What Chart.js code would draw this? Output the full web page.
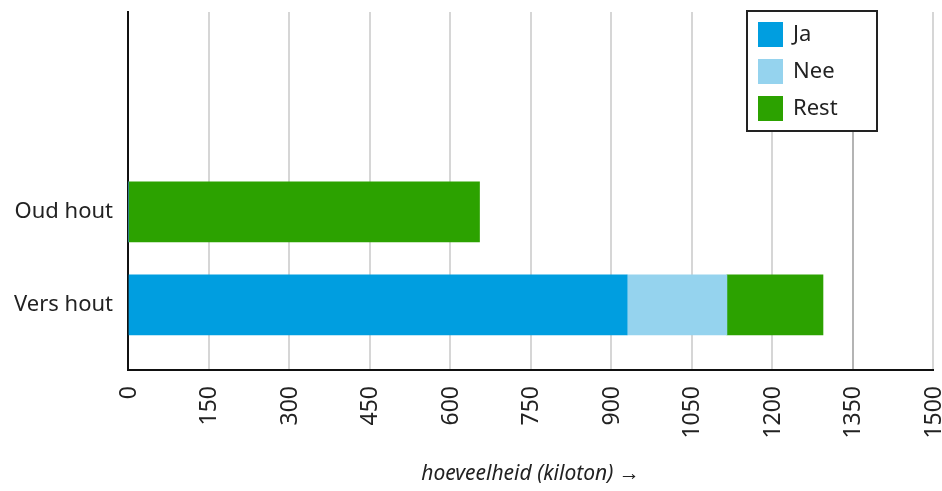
<!DOCTYPE html>
<html>
<head>
<meta charset="utf-8">
<script src="https://cdn.jsdelivr.net/npm/chart.js@4/dist/chart.umd.min.js"></script>
<style>
  html, body { margin: 0; padding: 0; background: #fff; }
  #wrap { width: 942px; height: 491px; }
</style>
</head>
<body>
<div id="wrap"><canvas id="chart" width="942" height="491"></canvas></div>
<script>
// data (kiloton)
var categories = ["Oud hout", "Vers hout"];
var seriesNames = ["Ja", "Nee", "Rest"];
var ja = [0, 930];
var nee = [0, 186];
var rest = [655, 179];
var xTicks = [0, 150, 300, 450, 600, 750, 900, 1050, 1200, 1350, 1500];
var colors = ["#009ee0", "#95d3ee", "#2ca200"];

// categories sit low on the axis, leaving room above for the legend
var catOffset = 2;

function toPoints(values) {
  return values.map(function(v, i) {
    return { x: v, y: i + catOffset };
  });
}

var seriesValues = [ja, nee, rest];
var datasets = seriesNames.map(function(name, k) {
  return {
    label: name,
    data: toPoints(seriesValues[k]),
    backgroundColor: colors[k],
    borderWidth: 0,
    barThickness: 60
  };
});

// boxed legend in the upper right
var boxLegend = {
  id: "boxLegend",
  afterDraw: function(chart) {
    var ctx = chart.ctx;
    var x0 = 747, y0 = 11, w = 130, h = 120;
    ctx.save();
    ctx.fillStyle = "#fff";
    ctx.fillRect(x0, y0, w, h);
    ctx.strokeStyle = "#222";
    ctx.lineWidth = 2;
    ctx.strokeRect(x0, y0, w, h);
    ctx.font = "22px 'Noto Sans'";
    ctx.textBaseline = "middle";
    chart.data.datasets.forEach(function(ds, i) {
      var yy = 22 + i * 37;
      ctx.fillStyle = ds.backgroundColor;
      ctx.fillRect(758, yy, 25, 25);
      ctx.fillStyle = "#222";
      ctx.fillText(ds.label, 793, yy + 13);
    });
    ctx.restore();
  }
};

new Chart(document.getElementById("chart"), {
  type: "bar",
  data: { datasets: datasets },
  plugins: [boxLegend],
  options: {
    indexAxis: "y",
    responsive: false,
    animation: false,
    layout: { padding: { top: 12, right: 9, left: 0, bottom: 0 } },
    plugins: {
      legend: { display: false },
      tooltip: { enabled: false }
    },
    scales: {
      x: {
        type: "linear",
        stacked: true,
        min: 0,
        max: 1500,
        afterBuildTicks: function(scale) {
          scale.ticks = xTicks.map(function(v) { return { value: v }; });
        },
        afterFit: function(scale) {
          scale.height = 121;
          scale.paddingLeft = 0;
          scale.paddingRight = 0;
        },
        grid: {
          color: function(c) { return c.tick && c.tick.value === 1350 ? "#b4b4b4" : "#d6d6d6"; },
          lineWidth: 2,
          tickLength: 0
        },
        border: { color: "#111", width: 2 },
        ticks: {
          minRotation: 90,
          maxRotation: 90,
          padding: 16,
          labelOffset: 1,
          color: "#222",
          font: { family: "'Noto Sans'", size: 23 },
          callback: function(v) { return String(v); }
        },
        title: {
          display: true,
          text: "hoeveelheid (kiloton) \u2192",
          color: "#222",
          font: { family: "'Noto Sans'", size: 21, style: "italic" },
          padding: { top: 12 }
        }
      },
      y: {
        type: "linear",
        stacked: true,
        reverse: true,
        offset: false,
        min: -0.15,
        max: 3.7,
        afterBuildTicks: function(scale) {
          scale.ticks = categories.map(function(c, i) { return { value: i + catOffset }; });
        },
        afterFit: function(scale) {
          scale.width = 128;
          scale.paddingTop = 0;
          scale.paddingBottom = 0;
        },
        grid: { display: false, offset: false },
        border: { color: "#111", width: 2 },
        ticks: {
          padding: 7,
          color: "#222",
          font: { family: "'Noto Sans'", size: 22 },
          callback: function(v) { return categories[v - catOffset]; }
        }
      }
    }
  }
});
</script>
</body>
</html>
